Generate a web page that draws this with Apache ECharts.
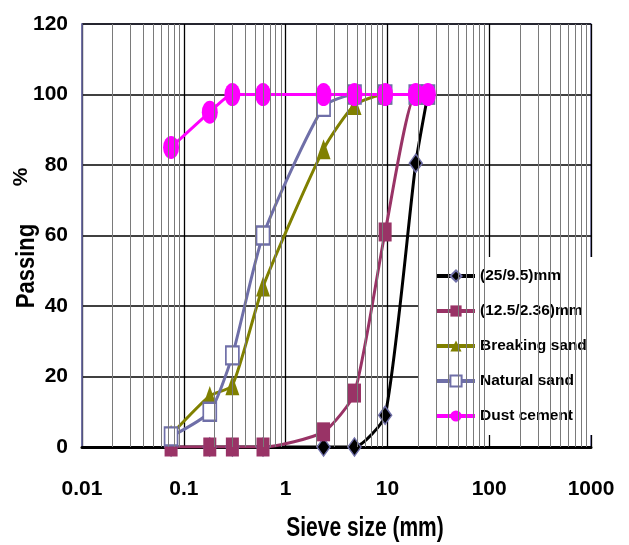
<!DOCTYPE html>
<html>
<head>
<meta charset="utf-8">
<script src="https://cdn.jsdelivr.net/npm/echarts@6/dist/echarts.min.js"></script>
<style>
html,body{margin:0;padding:0;background:#fff;}
#chart{width:629px;height:545px;}
</style>
</head>
<body>
<div id="chart"></div>
<script>
const sieveSizes = [0.075, 0.18, 0.3, 0.6, 2.36, 4.75, 9.5, 19, 25];
const agg25 = [0, 0, 0, 0, 0, 0, 9, 80.5, 100];
const agg125 = [0, 0, 0, 0, 4.3, 15.3, 61, 100, 100];
const breakingSand = [3.5, 14.5, 17.5, 45.5, 84.5, 97, 100, 100, 100];
const naturalSand = [3, 10, 26, 60, 96.5, 100, 100, 100, 100];
const dustCement = [85, 95, 100, 100, 100, 100, 100, 100, 100];
const seriesNames = ['(25/9.5)mm', '(12.5/2.36)mm', 'Breaking sand', 'Natural sand', 'Dust cement'];
const xTickLabels = ['0.01', '0.1', '1', '10', '100', '1000'];
const yTickLabels = ['0', '20', '40', '60', '80', '100', '120'];

const FONT = "'Liberation Sans', Arial, sans-serif";
const frameColor = '#6F6FA8';

function pairs(vals) { return sieveSizes.map((x, i) => [x, vals[i]]); }

// minor vertical gridlines (2..9 of each decade)
const minorGrid = [];
for (let d = -2; d < 3; d++) {
  for (let m = 2; m <= 9; m++) minorGrid.push(+(m * Math.pow(10, d)).toPrecision(3));
}

const chart = echarts.init(document.getElementById('chart'), null, {renderer: 'canvas'});
const lineBase = {type: 'line', smooth: 0.2, z: 3};
chart.setOption({
  animation: false,
  backgroundColor: '#fff',
  grid: {left: 82, right: 38, top: 24, bottom: 98, show: true, borderColor: frameColor, borderWidth: 1.5, backgroundColor: 'transparent'},
  xAxis: {
    type: 'log', logBase: 10, min: 0.01, max: 1000,
    axisLine: {show: true, onZero: false, lineStyle: {color: '#000', width: 3}},
    axisTick: {show: false},
    splitLine: {show: true, lineStyle: {color: '#000', width: 1.3}},
    axisLabel: {
      margin: 32, color: '#000', fontSize: 21, fontWeight: 'bold', fontFamily: FONT,
      formatter: v => xTickLabels[Math.round(Math.log10(v)) + 2]
    }
  },
  yAxis: {
    type: 'value', min: 0, max: 120, interval: 20,
    axisLine: {show: true, lineStyle: {color: frameColor, width: 1.5}},
    axisTick: {show: false},
    splitLine: {show: true, lineStyle: {color: '#000', width: 1.5}},
    axisLabel: {
      margin: 14, color: '#000', fontSize: 21, fontWeight: 'bold', fontFamily: FONT,
      formatter: v => yTickLabels[Math.round(v / 20)]
    }
  },
  legend: {
    orient: 'vertical', left: 418, top: 257, padding: [11, 8, 11, 17],
    backgroundColor: '#fff', itemWidth: 38, itemHeight: 14, itemGap: 19,
    data: seriesNames,
    lineStyle: {width: 4, type: 'solid'},
    textStyle: {color: '#000', fontSize: 15.5, fontWeight: 'bold', fontFamily: FONT}
  },
  graphic: [
    {type: 'text', position: [365, 528], scaleY: 1.3, style: {text: 'Sieve size (mm)', fill: '#000', font: "bold 21px " + FONT, textAlign: 'center', textVerticalAlign: 'middle'}},
    {type: 'text', position: [27, 266], rotation: Math.PI / 2, scaleY: 1.15, style: {text: 'Passing', fill: '#000', font: "bold 22px " + FONT, textAlign: 'center', textVerticalAlign: 'middle'}},
    {type: 'text', position: [21, 177], rotation: Math.PI / 2, style: {text: '%', fill: '#000', font: "bold 21px " + FONT, textAlign: 'center', textVerticalAlign: 'middle'}}
  ],
  series: [
    {
      name: 'minorGrid', type: 'line', data: [], z: 1, silent: true,
      markLine: {silent: true, symbol: ['none', 'none'], label: {show: false},
        lineStyle: {color: '#7a7a7a', width: 1, type: 'solid'},
        emphasis: {disabled: true},
        data: minorGrid.map(v => ({xAxis: v}))}
    },
    Object.assign({}, lineBase, {
      name: seriesNames[0], data: pairs(agg25), symbol: 'diamond', symbolSize: [13, 18],
      lineStyle: {color: '#000', width: 3, type: 'solid'},
      itemStyle: {color: '#000', borderColor: frameColor, borderWidth: 1.5}
    }),
    Object.assign({}, lineBase, {
      name: seriesNames[1], data: pairs(agg125), symbol: 'rect', symbolSize: [13, 19],
      lineStyle: {color: '#993366', width: 3},
      itemStyle: {color: '#993366'}
    }),
    Object.assign({}, lineBase, {
      name: seriesNames[2], data: pairs(breakingSand), symbol: 'triangle', symbolSize: [14, 20],
      lineStyle: {color: '#808000', width: 3},
      itemStyle: {color: '#808000'}
    }),
    Object.assign({}, lineBase, {
      name: seriesNames[3], data: pairs(naturalSand), symbol: 'emptyRect', symbolSize: [13, 18],
      lineStyle: {color: frameColor, width: 3},
      itemStyle: {color: frameColor, borderWidth: 1.5}
    }),
    Object.assign({}, lineBase, {
      name: seriesNames[4], data: pairs(dustCement), symbol: 'circle', symbolSize: [16, 23],
      lineStyle: {color: '#FF00FF', width: 3},
      itemStyle: {color: '#FF00FF'}
    })
  ]
});
</script>
</body>
</html>
